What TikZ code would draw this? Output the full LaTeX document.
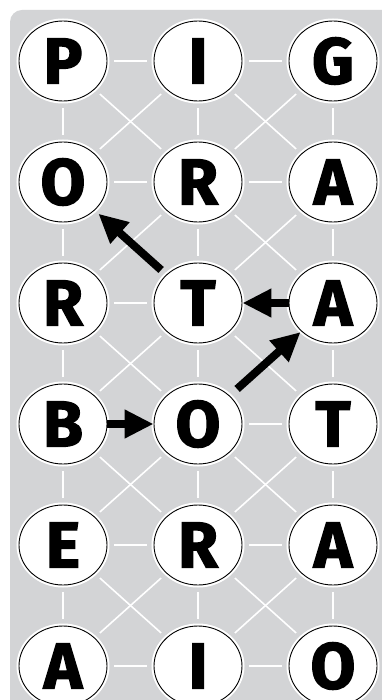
\documentclass[tikz,border=0pt]{standalone}
\usepackage{fontspec}
\setmainfont{Fira Sans}
\newfontfamily\letterfont[FakeBold=2]{Fira Sans Bold}
\usetikzlibrary{arrows.meta,shapes.geometric}
\definecolor{bggray}{RGB}{211,212,214}
\tikzset{
  letter/.style={ellipse, minimum width=88pt, minimum height=80pt, inner sep=0pt,
    fill=white, draw=black, line width=0.9pt,
    preaction={draw=white, line width=5pt},
    font=\fontsize{65}{65}\letterfont},
  wline/.style={draw=white, line width=1.6pt, shorten <=7pt, shorten >=7pt},
  arr/.style={draw=black, line width=8pt, -{Triangle[length=29pt,width=27pt]}}
}
\begin{document}
\begin{tikzpicture}[x=1pt,y=-1pt]
\clip (0,0) rectangle (382,700);
\fill[white] (0,0) rectangle (382,700);
\fill[bggray, rounded corners=12pt] (10,10) rectangle (394,730);
% nodes
\node[letter] (n11) at (63,61) {P};
\node[letter] (n12) at (198,61) {I};
\node[letter] (n13) at (333,61) {G};
\node[letter] (n21) at (63,182) {O};
\node[letter] (n22) at (198,182) {R};
\node[letter] (n23) at (333,182) {A};
\node[letter] (n31) at (63,303) {R};
\node[letter] (n32) at (198,303) {T};
\node[letter] (n33) at (333,303) {A};
\node[letter] (n41) at (63,424) {B};
\node[letter] (n42) at (198,424) {O};
\node[letter] (n43) at (333,424) {T};
\node[letter] (n51) at (63,545) {E};
\node[letter] (n52) at (198,545) {R};
\node[letter] (n53) at (333,545) {A};
\node[letter] (n61) at (63,666) {A};
\node[letter] (n62) at (198,666) {I};
\node[letter] (n63) at (333,666) {O};
% white connectors
\foreach \a/\b in {11/12,12/13,21/22,22/23,31/32,42/43,51/52,52/53,61/62,62/63,
  11/21,21/31,31/41,41/51,51/61,12/22,22/32,32/42,42/52,52/62,13/23,23/33,33/43,43/53,53/63,
  11/22,12/23,22/33,31/42,32/43,41/52,42/53,51/62,52/63,
  12/21,13/22,22/31,23/32,32/41,43/52,42/51,53/62,52/61}
  \draw[wline] (n\a) -- (n\b);
% arrows
\draw[arr] (n41) -- (n42);
\draw[arr] (n33) -- (n32);
\draw[arr, shorten <=7pt, shorten >=5pt] (n32) -- (n21);
\draw[arr, shorten <=10pt, shorten >=1pt] (n42) -- (n33);
\end{tikzpicture}
\end{document}
